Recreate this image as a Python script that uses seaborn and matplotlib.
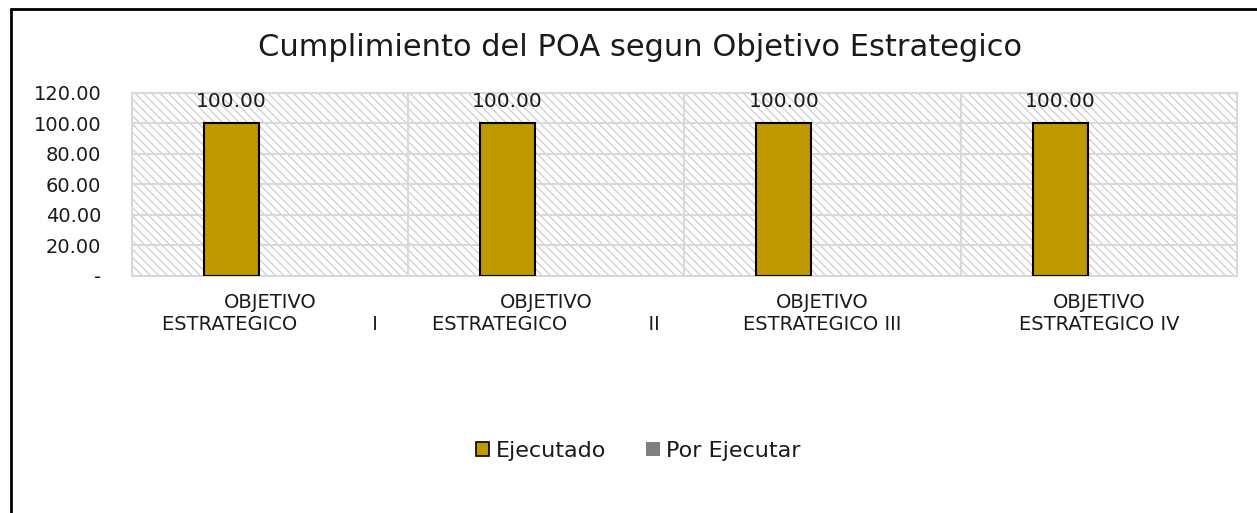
"""Cumplimiento del POA segun Objetivo Estrategico - bar chart."""

import pandas as pd
import matplotlib
matplotlib.use('Agg')  # Non-interactive backend
import matplotlib.pyplot as plt
from matplotlib.lines import Line2D
from matplotlib.ticker import FuncFormatter
import seaborn as sns

# Data
objetivos = [
    "OBJETIVO\nESTRATEGICO            I",
    "OBJETIVO\nESTRATEGICO             II",
    "OBJETIVO\nESTRATEGICO III",
    "OBJETIVO\nESTRATEGICO IV",
]
ejecutado = [100.0, 100.0, 100.0, 100.0]
por_ejecutar = [0.0, 0.0, 0.0, 0.0]
series = ["Ejecutado", "Por Ejecutar"]
colores = {"Ejecutado": "#C09800", "Por Ejecutar": "#808080"}

sns.set_style("white")
plt.rcParams['font.family'] = ['DejaVu Sans']
plt.rcParams['hatch.color'] = '#cfcfcf'
plt.rcParams['hatch.linewidth'] = 0.9

TXT = '#1a1a1a'

df = pd.DataFrame({
    'objetivo': objetivos * 2,
    'valor': ejecutado + por_ejecutar,
    'serie': [series[0]] * len(objetivos) + [series[1]] * len(objetivos),
})

fig = plt.figure(figsize=(12.57, 5.13), dpi=100)
ax = fig.add_axes([0.105, 0.462, 0.879, 0.357])

# Hatched plot area
ax.patch.set_facecolor('white')
ax.patch.set_hatch('\\' * 4)
ax.patch.set_edgecolor('#cfcfcf')

sns.barplot(data=df, x='objetivo', y='valor', hue='serie', palette=colores,
            saturation=1, width=0.56, gap=0.29, edgecolor='black', linewidth=1.5,
            ax=ax, legend=False, zorder=3)

# Hide outline of empty "Por Ejecutar" bars
for bar in ax.containers[1]:
    bar.set_linewidth(0)

ax.bar_label(ax.containers[0], fmt='%.2f', padding=9, fontsize=14.5, color=TXT)

ax.set_ylim(0, 120)
ax.set_xlim(-0.5, len(objetivos) - 0.5)
ax.set_yticks(range(0, 121, 20))
ax.yaxis.set_major_formatter(FuncFormatter(lambda v, p: '-' if v == 0 else f'{v:.2f}'))
ax.tick_params(axis='y', length=0, pad=22, labelsize=14, labelcolor=TXT)
ax.tick_params(axis='x', length=0, pad=12, labelsize=14, labelcolor=TXT)
ax.set_xlabel('')
ax.set_ylabel('')

# Grid: horizontal lines and category separators
ax.yaxis.grid(True, color='#d9d9d9', linewidth=1.5, zorder=1)
for xb in [0.5, 1.5, 2.5]:
    ax.axvline(xb, color='#d9d9d9', linewidth=1.5, zorder=1)
ax.set_axisbelow(True)
for side in ['top', 'right', 'left', 'bottom']:
    ax.spines[side].set_visible(True)
    ax.spines[side].set_color('#d9d9d9')
    ax.spines[side].set_linewidth(1.5)

fig.suptitle('Cumplimiento del POA segun Objetivo Estrategico',
             x=0.509, y=0.935, fontsize=22, color=TXT)

# Legend
handles = [
    plt.Rectangle((0, 0), 1, 1, facecolor=colores['Ejecutado'], edgecolor='black', linewidth=1.2),
    plt.Rectangle((0, 0), 1, 1, facecolor=colores['Por Ejecutar'], edgecolor='none'),
]
leg = fig.legend(handles, series, loc='center', bbox_to_anchor=(0.508, 0.121), ncol=2,
                 frameon=False, fontsize=16, handlelength=0.6, handleheight=0.6,
                 handletextpad=0.3, columnspacing=1.8)
for t in leg.get_texts():
    t.set_color(TXT)

# Chart frame (left and top edges)
fig.add_artist(Line2D([0.009, 0.009], [0.0, 0.983], color='black', linewidth=2,
                      transform=fig.transFigure))
fig.add_artist(Line2D([0.009, 1.0], [0.983, 0.983], color='black', linewidth=2,
                      transform=fig.transFigure))

fig.savefig('out.png', dpi=100)
plt.close(fig)
